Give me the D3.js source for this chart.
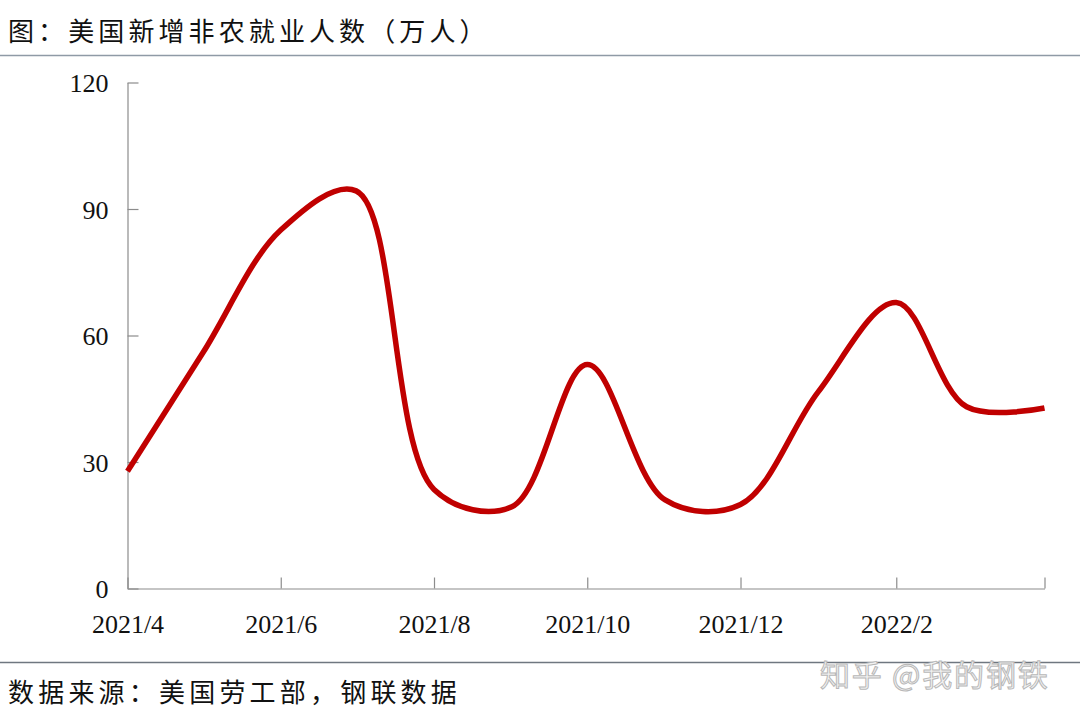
<!DOCTYPE html>
<html><head><meta charset="utf-8">
<script src="https://cdn.jsdelivr.net/npm/d3@7"></script>
<style>body{margin:0;background:#fff}svg{display:block}</style>
</head><body>
<svg id="c" width="1080" height="718"></svg>
<script>
const months = ["2021-04-01","2021-05-01","2021-06-01","2021-07-01","2021-08-01","2021-09-01","2021-10-01","2021-11-01","2021-12-01","2022-01-01","2022-02-01","2022-03-01","2022-04-01"];
const values = [27.8, 55.9, 85.0, 94.3, 23.5, 19.4, 53.1, 21.0, 19.9, 46.7, 67.8, 43.1, 42.8];
const yTicks = [0, 30, 60, 90, 120];
const xTickDates = ["2021-04-01","2021-06-01","2021-08-01","2021-10-01","2021-12-01","2022-02-01","2022-04-01"];
const xTickLabels = ["2021/4","2021/6","2021/8","2021/10","2021/12","2022/2",""];
const title = "图：美国新增非农就业人数（万人）";
const source = "数据来源：美国劳工部，钢联数据";
const watermark = "知乎 @我的钢铁";

const parse = d3.utcParse("%Y-%m-%d");
const svg = d3.select("#c");
const x = d3.scaleUtc().domain([parse(months[0]), parse(months[months.length-1])]).range([127.5, 1044.5]);
const y = d3.scaleLinear().domain([0, 120]).range([588.5, 82.5]);

// title & rules
svg.append("text").attr("x", 8).attr("y", 41).attr("font-family", "Noto Sans CJK SC").attr("font-size", 26).attr("letter-spacing", 4.1).attr("fill", "#111").text(title);
svg.append("line").attr("x1", 0).attr("x2", 1080).attr("y1", 55.5).attr("y2", 55.5).attr("stroke", "#8f9aa6").attr("stroke-width", 1.5);
svg.append("line").attr("x1", 0).attr("x2", 1080).attr("y1", 662.5).attr("y2", 662.5).attr("stroke", "#6f7780").attr("stroke-width", 1.5);
svg.append("text").attr("x", 8).attr("y", 702).attr("font-family", "Noto Sans CJK SC").attr("font-size", 26).attr("letter-spacing", 4.2).attr("fill", "#111").text(source);
svg.append("text").attr("x", 820).attr("y", 686).attr("font-family", "Noto Sans CJK SC").attr("font-size", 30).attr("letter-spacing", 1.8).attr("fill", "#f2f2f2").attr("stroke", "#b8b8b8").attr("stroke-width", 1).text(watermark);

// axes
const yAxis = svg.append("g").attr("transform", "translate(127.5,0)")
  .call(d3.axisLeft(y).tickValues(yTicks).tickSizeInner(-11).tickSizeOuter(0).tickPadding(19));
const xAxis = svg.append("g").attr("transform", "translate(0,588.5)")
  .call(d3.axisBottom(x).tickValues(xTickDates.map(parse)).tickFormat((d,i)=>xTickLabels[i]).tickSizeInner(-11).tickSizeOuter(0).tickPadding(26));
[yAxis, xAxis].forEach(g => {
  g.selectAll("path,line").attr("stroke", "#8c8c8c").attr("stroke-width", 1.2);
  g.selectAll("text").attr("font-family", "Liberation Serif").attr("font-size", 26).attr("fill", "#111");
});
yAxis.selectAll("text").attr("dy", "0.35em");

// line
const line = d3.line().x((d,i)=>x(parse(months[i]))).y(d=>y(d)).curve(d3.curveCatmullRom.alpha(0.5));
svg.append("path").datum(values).attr("d", line).attr("fill", "none").attr("stroke", "#c00000").attr("stroke-width", 5.5).attr("stroke-linejoin", "round");
</script>
</body></html>
